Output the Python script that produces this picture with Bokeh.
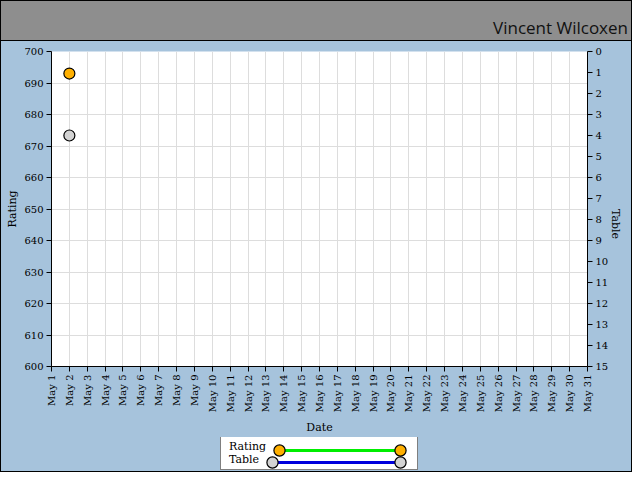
import math
from bokeh.plotting import figure
from bokeh.models import (Range1d, LinearAxis, FixedTicker, Legend, LegendItem,
                          ColumnDataSource, Div)
from bokeh.layouts import column
from bokeh.embed import file_html
from bokeh.resources import INLINE

# ---- data ----
TITLE = "Vincent Wilcoxen"
DAYS = list(range(1, 32))
DATE_LABELS = ["May 1", "May 2", "May 3", "May 4", "May 5", "May 6", "May 7",
               "May 8", "May 9", "May 10", "May 11", "May 12", "May 13", "May 14",
               "May 15", "May 16", "May 17", "May 18", "May 19", "May 20", "May 21",
               "May 22", "May 23", "May 24", "May 25", "May 26", "May 27", "May 28",
               "May 29", "May 30", "May 31"]
RATING_TICKS = [600, 610, 620, 630, 640, 650, 660, 670, 680, 690, 700]
TABLE_TICKS = list(range(0, 16))
RATING_DAYS = [2]
RATING_VALUES = [693]
TABLE_DAYS = [2]
TABLE_VALUES = [4]

W = 630
TOP_H = 40
MAIN_H = 396
LEG_H = 34
BLUE = "#a6c3dc"
GRAY = "#8e8e8e"
SERIF = "DejaVu Serif"

# ---- title band ----
title_div = Div(text=TITLE, width=W, height=TOP_H, margin=0,
                styles={"background-color": GRAY,
                        "border-bottom": "1px solid black",
                        "box-sizing": "border-box",
                        "font-family": "Open Sans",
                        "font-size": "17px",
                        "color": "#111111",
                        "text-align": "right",
                        "padding": "15px 3px 0 0",
                        "overflow": "hidden"})

# ---- main chart ----
p = figure(width=W, height=MAIN_H, x_range=Range1d(1, 31), y_range=Range1d(600, 700),
           output_backend="svg", toolbar_location=None,
           background_fill_color="white", border_fill_color=BLUE,
           outline_line_color=None,
           min_border_left=50, min_border_right=40, min_border_top=10,
           min_border_bottom=70, x_axis_label="Date", y_axis_label="Rating")
p.extra_y_ranges = {"table": Range1d(15, 0)}
right_axis = LinearAxis(y_range_name="table", axis_label="Table",
                        ticker=FixedTicker(ticks=TABLE_TICKS))
p.add_layout(right_axis, "right")

p.xaxis.ticker = FixedTicker(ticks=DAYS)
p.xaxis.major_label_overrides = dict(zip(DAYS, DATE_LABELS))
p.xaxis.major_label_orientation = math.pi / 2
p.yaxis[0].ticker = FixedTicker(ticks=RATING_TICKS)

for ax in p.axis:
    ax.axis_line_color = "black"
    ax.major_tick_line_color = "black"
    ax.major_tick_out = 5
    ax.major_tick_in = 0
    ax.minor_tick_line_color = None
    ax.major_label_text_font = SERIF
    ax.major_label_text_font_size = "10px"
    ax.major_label_text_color = "black"
    ax.major_label_standoff = 3
    ax.axis_label_text_font = SERIF
    ax.axis_label_text_font_size = "11px"
    ax.axis_label_text_font_style = "normal"
    ax.axis_label_text_color = "black"
    ax.axis_label_standoff = 2
p.xaxis.axis_label_standoff = 6
right_axis.axis_label_standoff = 4
right_axis.axis_label_orientation = -math.pi / 2

p.xgrid.grid_line_color = "#dddddd"
p.ygrid.grid_line_color = "#dddddd"

rating_src = ColumnDataSource(dict(x=RATING_DAYS, y=RATING_VALUES))
table_src = ColumnDataSource(dict(x=TABLE_DAYS, y=TABLE_VALUES))

RATING_LINE = dict(line_color="#00ee00", line_width=3)
RATING_MARK = dict(size=11, fill_color="#ffb000", line_color="black", line_width=1.2)
TABLE_LINE = dict(line_color="#0000dd", line_width=3)
TABLE_MARK = dict(size=11, fill_color="#d3d3d3", line_color="black", line_width=1.2)

p.line("x", "y", source=rating_src, **RATING_LINE)
p.scatter("x", "y", source=rating_src, **RATING_MARK)
p.line("x", "y", source=table_src, y_range_name="table", **TABLE_LINE)
p.scatter("x", "y", source=table_src, y_range_name="table", **TABLE_MARK)

# ---- legend strip (its renderers lie outside its view; only the key shows) ----
lg = figure(width=W, height=LEG_H, x_range=Range1d(100, 101), y_range=Range1d(100, 101),
            x_axis_location=None, y_axis_location=None, min_border=0,
            toolbar_location=None, output_backend="svg",
            background_fill_color=BLUE, border_fill_color=BLUE,
            outline_line_color=BLUE, outline_line_width=2)
lg.grid.visible = False
lr_line = lg.line("x", "y", source=rating_src, **RATING_LINE)
lr_pts = lg.scatter("x", "y", source=rating_src, **RATING_MARK)
lt_line = lg.line("x", "y", source=table_src, **TABLE_LINE)
lt_pts = lg.scatter("x", "y", source=table_src, **TABLE_MARK)

BOX_X, BOX_Y, BOX_W = 169, 1, 196
ROW_Y = {"Rating": 21, "Table": 9}
NAMES_PAD = 3

names = Legend(items=[LegendItem(label="Rating", renderers=[lr_line]),
                      LegendItem(label="Table", renderers=[lt_line])],
               location=(BOX_X, BOX_Y), orientation="vertical",
               border_line_color="black", border_line_width=1,
               background_fill_color="white", background_fill_alpha=1,
               label_text_font=SERIF, label_text_font_size="11px",
               label_text_color="black",
               glyph_width=0, glyph_height=12, label_height=12,
               label_width=BOX_W - 2 * NAMES_PAD - 5, label_standoff=5,
               spacing=0, padding=NAMES_PAD, margin=0)
lg.add_layout(names)


def key(renderer, x0, x1, cy, h):
    return Legend(items=[LegendItem(label=" ", renderers=[renderer])],
                  location=(x0, cy - h / 2), orientation="vertical",
                  border_line_color=None, background_fill_alpha=0,
                  glyph_width=int(x1 - x0), glyph_height=h,
                  label_width=0, label_height=0, label_standoff=0,
                  label_text_font_size="1px", spacing=0, padding=0, margin=0)


# lines first, then the end markers on top
lg.add_layout(key(lr_line, 228, 349, ROW_Y["Rating"], 6))
lg.add_layout(key(lt_line, 221, 349, ROW_Y["Table"], 6))
for r, cx, row in [(lr_pts, 228, "Rating"), (lr_pts, 349, "Rating"),
                   (lt_pts, 221, "Table"), (lt_pts, 349, "Table")]:
    lg.add_layout(key(r, cx - 14, cx + 14, ROW_Y[row], 28))

layout = column(title_div, p, lg, spacing=0,
                styles={"border": "1px solid black", "background-color": BLUE})
open("out.html", "w").write(file_html(layout, INLINE))
